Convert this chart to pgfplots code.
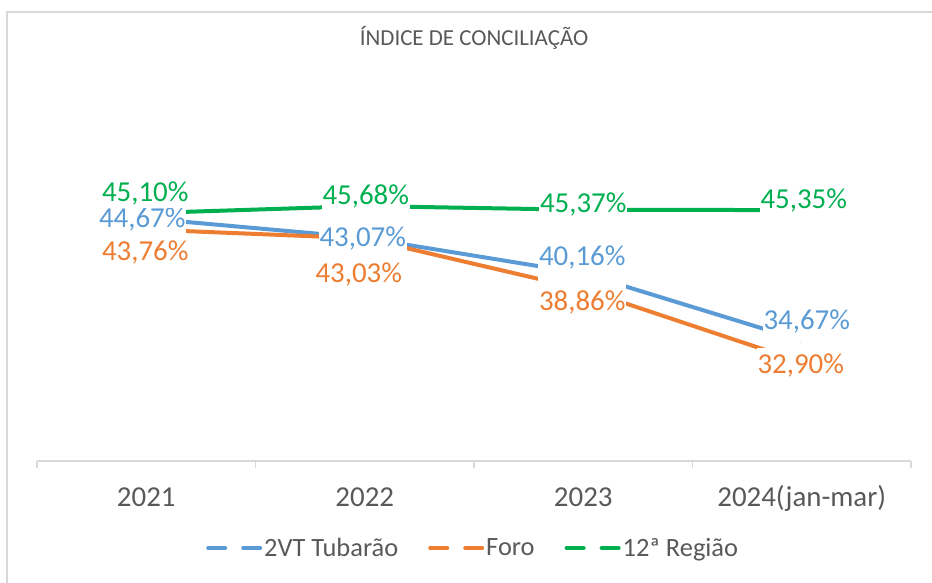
\documentclass[border=0pt]{standalone}
\usepackage{fontspec}
\setmainfont{Carlito}
\usepackage{pgfplots}
\usepackage{pgfplotstable}
\pgfplotsset{compat=1.18}
\definecolor{cblue}{HTML}{5B9BD5}
\definecolor{corange}{HTML}{ED7D31}
\definecolor{cgreen}{HTML}{00B050}
\definecolor{ctext}{HTML}{595959}
\definecolor{cgrid}{HTML}{D9D9D9}

% dx, dy: label centre offset (bp); ht, dp: white box extent above/below baseline (bp)
\pgfplotstableread{
x y lab dx dy ht dp
0 44.67 44,67 -4 0 25 7
1 43.07 43,07 -2 0 25 7
2 40.16 40,16 -1 17 25 13
3 34.67 34,67 5 20 25 13
}\tblue
\pgfplotstableread{
x y lab dx dy ht dp
0 43.76 43,76 -1 -22 25 7
1 43.03 43,03 -6 -35 25 7
2 38.86 38,86 -1 -12 33 7
3 32.90 32,90 -1 -2 25 7
}\torange
\pgfplotstableread{
x y lab dx dy ht dp
0 45.10 45,10 -1 21 25 7
1 45.68 45,68 1 10.5 25 7
2 45.37 45,37 0 6 25 7
3 45.35 45,35 2 11 25 7
}\tgreen

\pgfplotsset{
  lbl/.style={draw=none, mark=none, forget plot,
    point meta=explicit symbolic,
    nodes near coords={\pgfplotspointmeta\%},
    visualization depends on={\thisrow{dx}\as\ldx},
    visualization depends on={\thisrow{dy}\as\ldy},
    visualization depends on={\thisrow{ht}\as\lht},
    visualization depends on={\thisrow{dp}\as\ldp},
    every node near coord/.append style={anchor=base, fill=white, text=#1,
      font=\fontsize{29}{34}\selectfont, inner xsep=1bp, inner ysep=0bp,
      text height=\lht bp, text depth=\ldp bp, xshift=\ldx*1bp, yshift=\ldy*1bp-9bp}},
}

\begin{document}
\begin{tikzpicture}
\begin{axis}[
  at={(37bp,122bp)}, anchor=south west,
  width=874bp, height=307.7bp, scale only axis,
  xmin=-0.5, xmax=3.5, ymin=24.8, ymax=50,
  axis x line*=bottom, axis y line=none,
  x axis line style={draw=cgrid, line width=1.5bp},
  xtick={0,1,2,3}, xticklabels={2021,2022,2023,2024(jan-mar)},
  major x tick style={draw=none},
  minor xtick={-0.5,0.5,1.5,2.5,3.5},
  minor x tick style={draw=cgrid, line width=1.5bp},
  minor tick length=7bp, tick align=outside,
  xticklabel style={font=\fontsize{29}{34}\selectfont, text=ctext, anchor=base, yshift=-41bp},
  title={ÍNDICE DE CONCILIAÇÃO},
  title style={font=\fontsize{23}{28}\selectfont, text=ctext, at={(0.5,1)}, anchor=base, yshift=101.5bp},
  clip=false,
  legend columns=3,
  legend style={draw=none, fill=none, at={(0.499,-0.283)}, anchor=center,
    font=\fontsize{26.5}{31}\selectfont, text=ctext,
    /tikz/every even column/.append style={column sep=28bp}},
  legend image code/.code={\draw[#1, line width=4bp, line cap=round, dash pattern=on 17bp off 18bp] (2bp,0bp) -- (54bp,0bp);},
]
\addplot[cblue, line width=4bp, line join=round] table[x=x,y=y]{\tblue};
\addlegendentry{2VT Tubarão}
\addplot[corange, line width=4bp, line join=round] table[x=x,y=y]{\torange};
\addlegendentry{Foro}
\addplot[cgreen, line width=4bp, line join=round] table[x=x,y=y]{\tgreen};
\addlegendentry{12ª Região}
\addplot[lbl=cblue] table[x=x,y=y,meta=lab]{\tblue};
\addplot[lbl=corange] table[x=x,y=y,meta=lab]{\torange};
\addplot[lbl=cgreen] table[x=x,y=y,meta=lab]{\tgreen};
\end{axis}
\draw[cgrid, line width=2bp] (7bp,-20bp) -- (7bp,571bp) -- (950bp,571bp);
\pgfresetboundingbox
\useasboundingbox (0,0) rectangle (932bp,583bp);
\end{tikzpicture}
\end{document}
